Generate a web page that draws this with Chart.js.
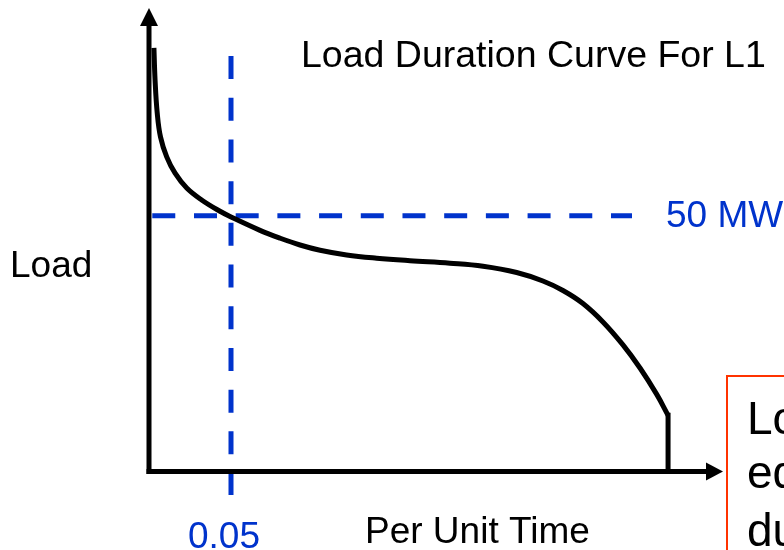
<!DOCTYPE html>
<html>
<head>
<meta charset="utf-8">
<title>Load Duration Curve For L1</title>
<script src="https://cdn.jsdelivr.net/npm/chart.js@4.4.1/dist/chart.umd.min.js"></script>
<style>
  html, body { margin: 0; padding: 0; background: #fff; }
  canvas { display: block; }
</style>
</head>
<body>
<canvas id="ldc" width="784" height="550"></canvas>
<script>
// per unit time (fraction of the period) and load in MW along the curve
const timePu = [0.003, 0.0037, 0.005, 0.007, 0.0108, 0.0159, 0.023, 0.0321, 0.0433, 0.05,
  0.0677, 0.0799, 0.0921, 0.1043, 0.1205, 0.1388, 0.1591, 0.1835, 0.2037, 0.2242,
  0.2402, 0.2524, 0.2646, 0.2768, 0.289, 0.2994, 0.3096, 0.3165];
const loadMw = [82.8, 76.5, 70.1, 65.4, 61.5, 58.3, 55.4, 53.07, 50.86, 49.75,
  47.13, 45.6, 44.27, 43.24, 42.32, 41.69, 41.2, 40.72, 40.13, 38.9,
  37.24, 35.38, 32.84, 29.24, 24.75, 20.23, 15.07, 10.99];

// marker for the 50 MW level and the 0.05 pu time it is exceeded for
const markTime = 0.05;
const markLoad = 50;
const markTimeLabel = "0.05";
const markLoadLabel = "50 MW";

const blue = "rgb(0, 51, 204)";
const font = "Liberation Sans, Arial, sans-serif";

const curve = timePu.map((t, i) => ({ x: t, y: loadMw[i] }));
const lastT = timePu[timePu.length - 1];
const lastL = loadMw[loadMw.length - 1];

// axes with arrow heads + all the text
const annotate = {
  id: "annotate",
  afterDatasetsDraw(chart) {
    const { ctx, scales } = chart;
    const x0 = scales.x.getPixelForValue(0);
    const y0 = scales.y.getPixelForValue(0);
    ctx.save();
    ctx.strokeStyle = "#000";
    ctx.fillStyle = "#000";
    ctx.lineWidth = 5;
    ctx.lineCap = "butt";

    // y axis
    ctx.beginPath();
    ctx.moveTo(x0, y0 + 2.5);
    ctx.lineTo(x0, 24);
    ctx.stroke();
    ctx.beginPath();
    ctx.moveTo(x0, 8);
    ctx.lineTo(x0 + 9, 26);
    ctx.lineTo(x0 - 9, 26);
    ctx.closePath();
    ctx.fill();

    // x axis
    ctx.beginPath();
    ctx.moveTo(x0 - 2.5, y0);
    ctx.lineTo(708, y0);
    ctx.stroke();
    ctx.beginPath();
    ctx.moveTo(723, y0);
    ctx.lineTo(706, y0 - 9);
    ctx.lineTo(706, y0 + 9);
    ctx.closePath();
    ctx.fill();
    ctx.restore();
  },
  afterDraw(chart) {
    const { ctx } = chart;
    ctx.save();
    ctx.textAlign = "left";
    ctx.textBaseline = "alphabetic";
    ctx.font = "37.5px " + font;
    ctx.fillStyle = "#000";
    ctx.fillText("Load Duration Curve For L1", 301, 67);
    ctx.font = "37px " + font;
    ctx.fillText("Load", 10, 277);
    ctx.fillText("Per Unit Time", 365, 543);
    ctx.fillStyle = blue;
    ctx.fillText(markLoadLabel, 666, 227);
    ctx.fillText(markTimeLabel, 188, 548);

    // note box on the right
    ctx.strokeStyle = "rgb(255, 51, 0)";
    ctx.lineWidth = 2;
    ctx.strokeRect(727, 376, 120, 220);
    ctx.fillStyle = "#000";
    ctx.font = "46px " + font;
    ctx.fillText("Load exceeds 50 MW", 747, 434);
    ctx.fillText("equivalent to 5% of", 747, 488);
    ctx.fillText("duration of the period", 747, 546);
    ctx.restore();
  }
};

new Chart(document.getElementById("ldc"), {
  type: "line",
  data: {
    datasets: [
      {
        label: "L1",
        data: curve,
        borderColor: "#000",
        borderWidth: 5,
        borderCapStyle: "butt",
        borderJoinStyle: "round",
        tension: 0.4,
        pointRadius: 0,
        fill: false
      },
      {
        // step down to zero at the end of the curve
        label: "drop",
        data: [{ x: lastT, y: lastL }, { x: lastT, y: 0 }],
        borderColor: "#000",
        borderWidth: 5,
        borderCapStyle: "square",
        pointRadius: 0,
        tension: 0,
        fill: false
      },
      {
        label: "50 MW",
        data: [{ x: 0.002, y: markLoad }, { x: 0.2945, y: markLoad }],
        borderColor: blue,
        borderWidth: 5,
        borderDash: [23, 18.7],
        pointRadius: 0,
        tension: 0,
        fill: false
      },
      {
        label: "0.05 pu",
        data: [{ x: markTime, y: 81.2 }, { x: markTime, y: -4.6 }],
        borderColor: blue,
        borderWidth: 5,
        borderDash: [23, 18.7],
        pointRadius: 0,
        tension: 0,
        fill: false,
        clip: false
      }
    ]
  },
  options: {
    responsive: false,
    animation: false,
    layout: { padding: { left: 149, right: 61, top: 11, bottom: 78.5 } },
    scales: {
      x: { type: "linear", min: 0, max: 0.35, display: false },
      y: { type: "linear", min: 0, max: 90, display: false }
    },
    plugins: {
      legend: { display: false },
      tooltip: { enabled: false },
      title: { display: false }
    }
  },
  plugins: [annotate]
});
</script>
</body>
</html>
